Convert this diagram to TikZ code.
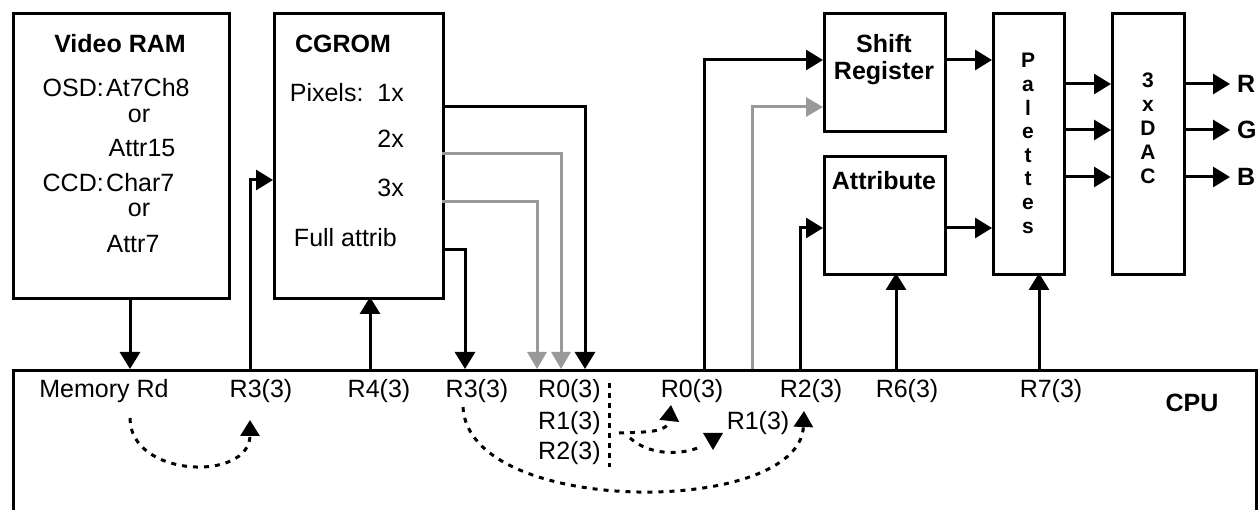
\documentclass[tikz,border=0pt]{standalone}
\usepackage{fontspec}
\setmainfont{Liberation Sans}
\usetikzlibrary{arrows.meta}
\begin{document}
\begin{tikzpicture}[x=1pt,y=-1pt,
  box/.style={draw, line width=3pt, inner sep=0pt, anchor=north west},
  conn/.style={line width=3pt, -{Triangle[length=17pt,width=20pt]}},
  gconn/.style={line width=3pt, draw=black!40, -{Triangle[length=17pt,width=19pt,fill=black!40]}},
  dotc/.style={line width=3pt, dash pattern=on 5pt off 6pt, -{Triangle[length=16pt,width=19pt]}},
  dotl/.style={line width=3pt, dash pattern=on 5pt off 6pt},
  txt/.style={font=\fontsize{25}{30}\selectfont, inner sep=0pt, anchor=base},
  btxt/.style={font=\fontsize{25}{30}\selectfont\bfseries, inner sep=0pt, anchor=base},
  vtxt/.style={font=\fontsize{21}{24}\selectfont\bfseries, inner sep=0pt, anchor=base}]
\useasboundingbox (0,0) rectangle (1259,510);
\clip (0,0) rectangle (1259,510);

% boxes
\node[box, minimum width=216pt, minimum height=285pt] (vram) at (12,12) {};
\node[box, minimum width=169pt, minimum height=285pt] (cgrom) at (273,12) {};
\node[box, minimum width=121pt, minimum height=118pt] (shift) at (823,12) {};
\node[box, minimum width=121pt, minimum height=118pt] (attr) at (823,155) {};
\node[box, minimum width=71pt, minimum height=261pt] (pal) at (992,12) {};
\node[box, minimum width=72pt, minimum height=261pt] (dac) at (1111,12) {};
\node[box, minimum width=1243pt, minimum height=200pt] (cpu) at (12,369) {};

% Video RAM text
\node[btxt] (vramt) at (120,53) {Video RAM};
\node[txt, anchor=base east] (osd) at (104,97) {OSD:};
\node[txt, anchor=base west] (osdv) at (106,97) {At7Ch8};
\node[txt] (or1) at (139,123) {or};
\node[txt] (attr15) at (142,157) {Attr15};
\node[txt, anchor=base east] (ccd) at (104,192) {CCD:};
\node[txt, anchor=base west] (ccdv) at (106,192) {Char7};
\node[txt] (or2) at (139,217) {or};
\node[txt] (attr7) at (133,253) {Attr7};

% CGROM text
\node[btxt] (cgromt) at (343,53) {CGROM};
\node[txt, anchor=base east] (p1) at (404,102) {Pixels:\ \ 1x};
\node[txt, anchor=base east] (p2) at (404,148) {2x};
\node[txt, anchor=base east] (p3) at (404,197) {3x};
\node[txt, anchor=base east] (fa) at (397,247) {Full attrib};

% right blocks text
\node[btxt] (shiftt) at (884,53) {Shift};
\node[btxt] (regt) at (884,80) {Register};
\node[btxt] (attrt) at (884,190) {Attribute};
\foreach \l [count=\i from 0] in {P,a,l,e,t,t,e,s}
  \node[vtxt] (pl\i) at (1028,{68+23.6*\i}) {\l};
\foreach \l [count=\i from 0] in {3,x,D,A,C}
  \node[vtxt] (dl\i) at (1148,{88+24*\i}) {\l};
\node[btxt, anchor=base west] (rout) at (1237,93) {R};
\node[btxt, anchor=base west] (gout) at (1237,139) {G};
\node[btxt, anchor=base west] (bout) at (1237,186) {B};

% CPU labels
\node[txt] (memrd) at (104,398) {Memory Rd};
\node[txt] (r3a) at (261,398) {R3(3)};
\node[txt] (r4) at (379,398) {R4(3)};
\node[txt] (r3b) at (477,398) {R3(3)};
\node[txt, anchor=base west] (r0a) at (538,398) {R0(3)};
\node[txt, anchor=base west] (r1a) at (538,430) {R1(3)};
\node[txt, anchor=base west] (r2a) at (538,460) {R2(3)};
\node[txt] (r0b) at (692,398) {R0(3)};
\node[txt] (r2b) at (811,398) {R2(3)};
\node[txt] (r1b) at (758,430) {R1(3)};
\node[txt] (r6) at (907,398) {R6(3)};
\node[txt] (r7) at (1051,398) {R7(3)};
\node[btxt] (cput) at (1192,412) {CPU};
\draw[line width=3pt, dash pattern=on 5pt off 5pt] (609,383) -- (609,467);

% connectors
\draw[conn] (130,297) -- (130,369);
\draw[conn] (250,369) |- (273,180);
\draw[conn] (370,369) -- (370,297);
\draw[conn] (442,107) -| (585,369);
\draw[gconn] (442,154) -| (561,369);
\draw[gconn] (442,202) -| (537,369);
\draw[conn] (442,250) -| (465,369);
\draw[conn] (704,369) |- (823,60);
\draw[gconn] (752,369) |- (823,107);
\draw[conn] (800,369) |- (823,228);
\draw[conn] (896,369) -- (896,273);
\draw[conn] (1039,369) -- (1039,273);
\draw[conn] (944,60) -- (992,60);
\draw[conn] (944,228) -- (992,228);
\foreach \yy in {84,130,177} {
  \draw[conn] (1063,\yy) -- (1111,\yy);
  \draw[conn] (1183,\yy) -- (1230,\yy);
}

% dotted transfer curves
\draw[dotc] (130,418) .. controls (130,478) and (250,482) .. (250,420);
\draw[dotc] (463,407) .. controls (468,517) and (800,517) .. (804,411);
\draw[dotc] (619,433) .. controls (650,432) and (668,432) .. (671,405);
\draw[dotl] (630,438) .. controls (650,456) and (682,455) .. (700,447);
\fill (703,433) -- (723,433) -- (713,450) -- cycle;
\end{tikzpicture}
\end{document}
